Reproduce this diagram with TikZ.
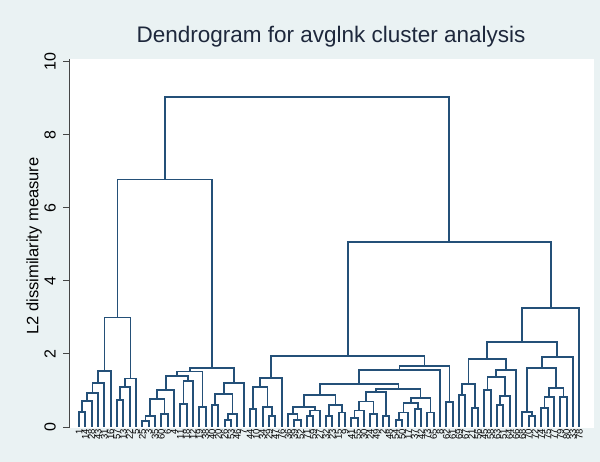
\documentclass[tikz,border=0pt]{standalone}
\usepackage{fontspec}
\setmainfont{Liberation Sans}
\definecolor{bgc}{RGB}{234,242,243}
\definecolor{dcol}{RGB}{36,80,120}
\definecolor{ttl}{RGB}{30,40,60}
\definecolor{axc}{RGB}{70,70,70}
\newcommand\mg[4]{%
  \coordinate (h#1) at (0,{427-36.5*#4});
  \path (#2) -- (#3) coordinate[pos=0.5] (m#1);
  \coordinate (#1) at (m#1 |- h#1);
  \draw[dl] (#2) |- (#1) -| (#3);
}
\begin{document}
\begin{tikzpicture}[x=1pt,y=-1pt,
  dl/.style={draw=dcol, line width=1.8pt},
  axline/.style={draw=axc, line width=1pt},
  ticklab/.style={font=\fontsize{16}{16}\selectfont, text=black, rotate=90, inner sep=0pt},
  leaflab/.style={font=\fontsize{9.5}{9.5}\selectfont, text=black, rotate=90, anchor=east, inner sep=0pt}]
\useasboundingbox (0,0) rectangle (600,462);
\fill[bgc] (0,0) rectangle (600,462);
\fill[white] (69,59) rectangle (594,428);
\node[font=\fontsize{22.5}{22.5}\selectfont, text=ttl] (title) at (331,37) {Dendrogram for avglnk cluster analysis};
\node[font=\fontsize{16.5}{16.5}\selectfont, text=black, rotate=90] (ytitle) at (34,246) {L2 dissimilarity measure};
% axis
\coordinate (ax0) at (69,428);
\coordinate (ax1) at (69,59);
\draw[axline] (ax0) -- (ax1);
\foreach \v in {0,2,4,6,8,10}{
  \coordinate (tk\v) at (69,{427-36.5*\v});
  \coordinate (tl\v) at (63,{427-36.5*\v});
  \draw[axline] (tl\v) -- (tk\v);
  \node[ticklab] (yl\v) at (50,{427-36.5*\v}) {\v};
}
% leaves
\foreach \i in {1,...,80}{ \coordinate (L\i) at ({79+6.333*(\i-1)},427); }
\foreach \lab [count=\i] in {1,14,28,43,31,16,57,13,22,5,25,3,35,60,6,4,11,18,12,19,38,40,20,26,53,46,7,44,10,34,29,47,76,36,39,52,71,59,27,32,23,15,9,41,55,30,24,49,2,48,54,50,17,37,42,73,65,8,62,61,69,67,21,56,45,58,63,51,64,66,68,70,72,74,75,77,79,80,33,78}{
  \node[leaflab] (T\i) at ([yshift=-2pt]L\i) {\lab};
}
% left group A
\mg{a1}{L1}{L2}{0.42}
\mg{a2}{a1}{L3}{0.71}
\mg{a3}{a2}{L4}{0.93}
\mg{a4}{a3}{L5}{1.2}
\mg{a5}{a4}{L6}{1.53}
\mg{b1}{L7}{L8}{0.74}
\mg{b2}{b1}{L9}{1.1}
\mg{b3}{b2}{L10}{1.33}
\mg{LA}{a5}{b3}{3.0}
% left group B
\mg{c1}{L11}{L12}{0.17}
\mg{c2}{c1}{L13}{0.3}
\mg{c3}{L14}{L15}{0.35}
\mg{c4}{c2}{c3}{0.76}
\mg{c5}{c4}{L16}{1.02}
\mg{c6}{L17}{L18}{0.62}
\mg{c7}{c6}{L19}{1.25}
\mg{c8}{c5}{c7}{1.4}
\mg{c9}{L20}{L21}{0.55}
\mg{c10}{c8}{c9}{1.52}
\mg{c11}{L22}{L23}{0.6}
\mg{c12}{L24}{L25}{0.2}
\mg{c13}{c12}{L26}{0.35}
\mg{c14}{c11}{c13}{0.9}
\mg{c15}{c14}{L27}{1.2}
\mg{LB}{c10}{c15}{1.62}
% middle left
\mg{d1}{L28}{L29}{0.5}
\mg{d2}{L31}{L32}{0.3}
\mg{d3}{L30}{d2}{0.55}
\mg{d4}{d1}{d3}{1.1}
\mg{ML}{d4}{L33}{1.34}
% middle right
\mg{e1}{L35}{L36}{0.2}
\mg{e2}{L34}{e1}{0.35}
\mg{e3}{L37}{L38}{0.3}
\mg{e4}{e3}{L39}{0.45}
\mg{e5}{e2}{e4}{0.55}
\mg{e6}{L40}{L41}{0.3}
\mg{e7}{L42}{L43}{0.4}
\mg{e8}{e6}{e7}{0.6}
\mg{MA}{e5}{e8}{0.88}
\mg{f1}{L44}{L45}{0.25}
\mg{f2}{f1}{L46}{0.45}
\mg{f3}{L47}{L48}{0.35}
\mg{f4}{f2}{f3}{0.7}
\mg{f5}{L49}{L50}{0.3}
\mg{f6}{f4}{f5}{0.95}
\mg{f7}{L51}{L52}{0.2}
\mg{f8}{f7}{L53}{0.4}
\mg{f9}{L54}{L55}{0.5}
\mg{f10}{f8}{f9}{0.65}
\mg{f11}{L56}{L57}{0.4}
\mg{f12}{f10}{f11}{0.8}
\mg{MB}{f6}{f12}{1.05}
\mg{M1}{MA}{MB}{1.18}
\mg{Mr1}{M1}{L58}{1.57}
\mg{g1}{L59}{L60}{0.68}
\mg{MR}{Mr1}{g1}{1.67}
\mg{M}{ML}{MR}{1.95}
% right group
\mg{r1}{L61}{L62}{0.88}
\mg{r2}{L63}{L64}{0.52}
\mg{r3}{r1}{r2}{1.18}
\mg{r4}{L65}{L66}{1.01}
\mg{r5}{L67}{L68}{0.6}
\mg{r6}{r5}{L69}{0.85}
\mg{r7}{r4}{r6}{1.37}
\mg{r8}{r7}{L70}{1.56}
\mg{r9}{r3}{r8}{1.86}
\mg{s1}{L72}{L73}{0.3}
\mg{s2}{L71}{s1}{0.41}
\mg{s3}{L74}{L75}{0.52}
\mg{s4}{s3}{L76}{0.82}
\mg{s5}{L77}{L78}{0.82}
\mg{s6}{s4}{s5}{1.07}
\mg{s7}{s2}{s6}{1.62}
\mg{s8}{s7}{L79}{1.92}
\mg{r10}{r9}{s8}{2.33}
\mg{R}{r10}{L80}{3.25}
% top
\mg{RR}{M}{R}{5.07}
\mg{LL}{LA}{LB}{6.78}
\mg{top}{LL}{RR}{9.05}
\end{tikzpicture}
\end{document}
